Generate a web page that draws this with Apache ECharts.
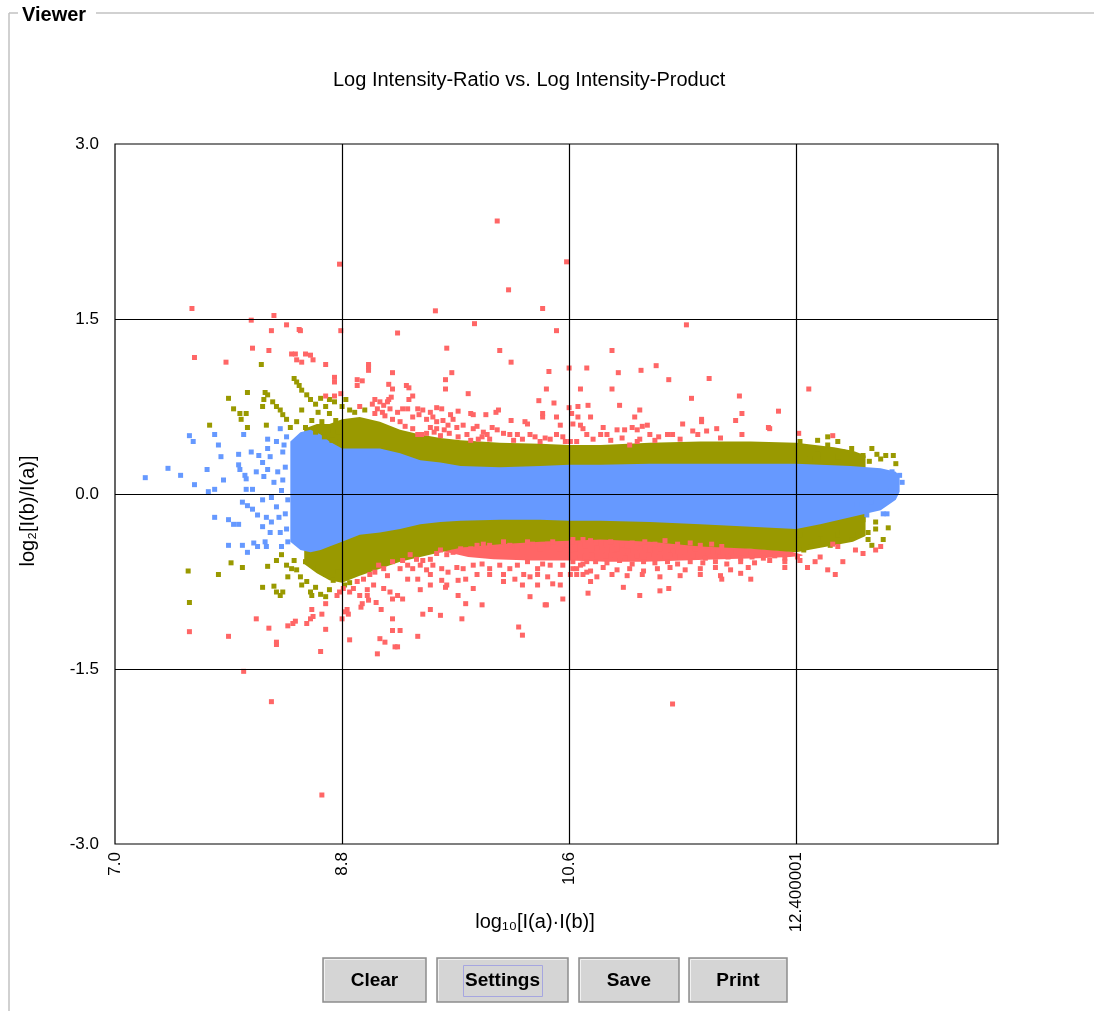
<!DOCTYPE html>
<html>
<head>
<meta charset="utf-8">
<script src="https://cdn.jsdelivr.net/npm/echarts@6/dist/echarts.min.js"></script>
<style>
  html, body { margin: 0; padding: 0; background: #ffffff; }
  #chart { width: 1094px; height: 1011px; }
</style>
</head>
<body>
<div id="chart"></div>
<script>
// ---- axis ticks ----
const xTicks = [7.0, 8.8, 10.6, 12.4];
const xTickLabels = ['7.0', '8.8', '10.6', '12.400001'];
const yTicks = [-3.0, -1.5, 0.0, 1.5, 3.0];
const yTickLabels = ['-3.0', '-1.5', '0.0', '1.5', '3.0'];

// ---- dense core of the cloud: upper / lower envelopes ----
const blueX  = [8.39, 8.47, 8.55, 8.63, 8.70, 8.80, 8.94, 9.10, 9.26, 9.42, 9.58, 9.74, 10.05, 10.37, 10.60, 10.85, 11.24, 11.64, 12.04, 12.40, 12.59, 12.83, 13.07, 13.19, 13.22];
const blueHi = [0.45, 0.53, 0.55, 0.51, 0.45, 0.39, 0.39, 0.39, 0.35, 0.29, 0.27, 0.24, 0.23, 0.24, 0.25, 0.25, 0.26, 0.26, 0.26, 0.26, 0.25, 0.24, 0.22, 0.19, 0.15];
const blueLo = [-0.41, -0.48, -0.50, -0.48, -0.45, -0.41, -0.35, -0.33, -0.30, -0.26, -0.24, -0.23, -0.22, -0.22, -0.23, -0.23, -0.24, -0.26, -0.28, -0.30, -0.26, -0.20, -0.14, -0.05, 0.02];

const oliveX  = [8.50, 8.60, 8.70, 8.80, 8.94, 9.10, 9.26, 9.42, 9.58, 9.74, 10.05, 10.37, 10.60, 10.85, 11.24, 11.64, 12.04, 12.40, 12.55, 12.70, 12.85, 12.95];
const oliveHi = [0.56, 0.60, 0.60, 0.64, 0.66, 0.62, 0.55, 0.51, 0.48, 0.46, 0.44, 0.43, 0.42, 0.42, 0.44, 0.45, 0.45, 0.44, 0.42, 0.40, 0.37, 0.33];
const oliveLo = [-0.60, -0.68, -0.74, -0.76, -0.70, -0.64, -0.58, -0.54, -0.50, -0.46, -0.43, -0.41, -0.40, -0.39, -0.41, -0.45, -0.47, -0.50, -0.47, -0.44, -0.41, -0.36];

// thick run of red just below the olive ring
const redLowX  = [9.60, 9.80, 10.00, 10.30, 10.60, 10.90, 11.20, 11.50, 11.80, 12.10, 12.35, 12.45];
const redLowHi = [-0.47, -0.45, -0.42, -0.40, -0.38, -0.38, -0.40, -0.42, -0.45, -0.47, -0.49, -0.52];
const redLowLo = [-0.49, -0.54, -0.56, -0.57, -0.57, -0.58, -0.58, -0.57, -0.56, -0.55, -0.54, -0.53];

// ---- individual spots outside the dense core ----
const bluePoints = [
  [7.24,0.14],[7.42,0.22],[7.52,0.16],[7.59,0.50],[7.62,0.45],[7.63,0.08],[7.73,0.21],[7.74,0.02],[7.79,0.04],
  [7.79,0.51],[7.82,0.42],[7.84,0.32],[7.86,0.12],[7.79,-0.20],[7.90,-0.22],[7.94,-0.26],[7.98,-0.26],[7.90,-0.44],
  [8.01,-0.44],[8.05,-0.50],[7.98,0.34],[7.98,0.25],[7.99,0.21],[8.03,0.16],[8.02,0.51],[8.08,0.36],[8.14,0.33],
  [8.04,0.13],[8.09,0.04],[8.04,0.04],[8.01,-0.07],[8.05,-0.10],[8.09,-0.13],[8.13,-0.18],[8.10,-0.42],[8.13,-0.45],
  [8.19,-0.41],[8.20,-0.45],[8.21,0.47],[8.21,0.39],[8.21,0.21],[8.18,0.15],[8.31,0.56],[8.28,0.45],[8.17,0.27],
  [8.23,0.32],[8.26,0.10],[8.24,-0.03],[8.17,-0.05],[8.28,-0.11],[8.20,-0.20],[8.24,-0.24],[8.31,-0.33],[8.23,-0.33],
  [8.17,-0.28],[8.32,-0.45],[8.12,0.19],[8.33,0.36],[8.35,0.23],[8.32,0.03],[8.35,-0.17],[8.29,0.19],[8.36,0.49],
  [8.37,-0.41],[8.34,0.42],[8.36,-0.30],[8.30,-0.20],[8.33,0.12],[8.37,-0.05],
  [13.22,0.16],[13.24,0.10],[13.09,-0.17],[13.12,-0.17],[13.16,0.19],[13.15,0.03],[12.99,-0.07],[12.96,-0.18],[12.88,-0.09]
];

const olivePoints = [
  [8.16,1.11],[8.42,0.99],[8.44,0.96],[8.46,0.93],[8.48,0.89],[8.52,0.85],[8.05,0.87],[7.90,0.82],[8.19,0.87],
  [8.21,0.85],[8.18,0.81],[8.17,0.75],[8.25,0.79],[8.28,0.75],[8.31,0.72],[8.33,0.68],[8.36,0.64],[7.94,0.73],
  [7.99,0.69],[8.00,0.64],[8.04,0.69],[7.75,0.59],[8.05,0.57],[8.20,0.59],[8.48,0.72],[8.55,0.81],[8.59,0.77],
  [8.63,0.82],[8.61,0.70],[8.67,0.75],[8.70,0.69],[8.56,0.63],[8.64,0.62],[8.75,0.63],[8.69,0.55],[8.77,0.53],
  [8.51,0.57],[8.59,0.53],[8.66,0.49],[8.72,0.46],[8.78,0.45],[8.39,0.57],[8.44,0.62],[8.80,0.75],[8.83,0.81],
  [8.74,0.79],[8.70,0.81],[8.86,0.72],[8.90,0.70],[8.98,0.72],
  [7.58,-0.66],[7.59,-0.93],[7.82,-0.69],[7.92,-0.59],[8.01,-0.63],[8.17,-0.80],[8.21,-0.62],[8.26,-0.79],[8.28,-0.84],
  [8.31,-0.87],[8.33,-0.84],[8.28,-0.57],[8.32,-0.52],[8.36,-0.61],[8.40,-0.64],[8.44,-0.65],[8.47,-0.71],[8.48,-0.78],
  [8.52,-0.75],[8.55,-0.84],[8.56,-0.87],[8.59,-0.80],[8.63,-0.86],[8.67,-0.88],[8.70,-0.82],[8.42,-0.57],[8.51,-0.58],
  [8.61,-0.63],[8.67,-0.69],[8.73,-0.74],[8.77,-0.67],[8.37,-0.71],[8.82,-0.78],[8.86,-0.76],
  [12.43,0.45],[12.49,0.39],[12.57,0.46],[12.65,0.49],[12.65,0.42],[12.73,0.45],[12.77,0.36],[12.84,0.39],[12.91,0.32],
  [12.93,0.33],[13.00,0.39],[13.07,0.30],[13.11,0.33],[13.17,0.33],[13.19,0.26],[12.61,0.30],[12.73,0.32],[12.51,0.30],
  [12.57,0.34],[12.98,0.28],[13.04,0.34],
  [12.43,-0.35],[12.46,-0.48],[12.51,-0.41],[12.59,-0.34],[12.61,-0.39],[12.67,-0.44],[12.73,-0.35],[12.76,-0.33],
  [12.80,-0.39],[12.85,-0.35],[12.91,-0.33],[12.93,-0.22],[12.97,-0.33],[13.03,-0.24],[13.03,-0.30],[13.09,-0.39],[12.97,-0.39],
  [13.13,-0.29],[13.00,-0.44]
];

const redPoints = [
  // above the cloud
  [10.03,2.34],[8.78,1.97],[10.58,1.99],[10.12,1.75],[7.61,1.59],[9.54,1.57],[10.39,1.59],[8.26,1.53],[8.08,1.49],
  [8.36,1.45],[8.24,1.40],[8.46,1.41],[8.47,1.40],[8.79,1.40],[8.09,1.25],[8.22,1.23],[8.40,1.20],[8.43,1.20],
  [8.51,1.20],[8.55,1.19],[8.57,1.15],[7.63,1.17],[7.88,1.13],[8.44,1.15],[8.48,1.13],[8.67,1.11],[8.74,1.00],
  [8.74,0.96],[8.92,0.98],[8.92,0.93],[8.96,0.97],[9.01,1.09],[8.67,0.84],[8.74,0.84],[8.79,0.86],[8.94,0.75],
  [9.85,1.46],[10.50,1.40],[9.24,1.38],[9.63,1.25],[10.05,1.23],[10.14,1.13],[9.01,1.11],[9.01,1.06],[9.20,1.04],
  [9.67,1.04],[10.44,1.05],[10.60,1.08],[10.74,1.08],[9.62,0.98],[9.62,0.90],[9.17,0.94],[9.20,0.90],[9.31,0.93],
  [9.33,0.91],[10.42,0.90],[10.69,0.90],[9.80,0.86],[9.36,0.84],[9.33,0.81],[9.19,0.83],[9.17,0.81],[9.16,0.79],
  [9.06,0.81],[9.10,0.79],[9.13,0.76],[9.04,0.77],[9.08,0.73],[10.36,0.80],[10.48,0.78],[10.60,0.74],[10.67,0.75],
  [10.75,0.76],[10.04,0.72],[10.02,0.70],[9.40,0.73],[9.44,0.72],[9.50,0.70],[9.55,0.74],[9.59,0.73],[9.72,0.71],
  [9.82,0.69],[9.84,0.68],[9.12,0.70],[9.18,0.73],[9.24,0.70],[9.28,0.73],[9.32,0.73],[9.94,0.68],[10.14,0.63],
  [10.25,0.62],[10.27,0.60],[10.39,0.66],[10.39,0.69],[10.50,0.66],[10.53,0.59],[10.62,0.69],[10.67,0.66],[9.36,0.66],
  [9.41,0.68],[9.47,0.64],[9.52,0.66],[9.55,0.62],[9.60,0.63],[9.66,0.68],[9.68,0.64],[9.64,0.59],[9.50,0.57],
  [9.55,0.56],[9.61,0.55],[9.71,0.57],[9.76,0.59],[9.84,0.56],[9.87,0.58],[9.92,0.53],[9.99,0.57],[10.03,0.55],
  [10.08,0.52],[10.13,0.51],[10.19,0.51],[10.23,0.47],[10.29,0.51],[10.33,0.49],[10.37,0.45],[10.45,0.47],[10.50,0.51],
  [10.55,0.49],[10.61,0.45],[10.66,0.45],[9.36,0.56],[9.40,0.51],[9.43,0.51],[9.47,0.52],[9.79,0.51],[9.82,0.46],
  [9.88,0.47],[9.95,0.51],[9.97,0.47],[9.26,0.62],[9.30,0.58],[9.20,0.64],[9.14,0.67],[9.06,0.69],
  [9.58,0.50],[9.65,0.52],[9.72,0.49],[10.16,0.46],[10.41,0.48],[10.57,0.45],[9.91,0.49],[9.53,0.53],
  [11.53,1.45],[10.94,1.23],[10.99,1.04],[11.17,1.06],[11.29,1.10],[11.39,0.98],[11.71,0.99],[10.94,0.90],[11.95,0.84],
  [11.57,0.82],[11.00,0.76],[11.16,0.72],[11.97,0.69],[12.26,0.71],[12.50,0.90],[10.77,0.66],[11.12,0.66],[10.63,0.60],
  [10.69,0.59],[11.50,0.60],[11.65,0.64],[11.65,0.62],[11.92,0.63],[12.18,0.57],[12.19,0.56],[11.77,0.56],[11.69,0.54],
  [11.58,0.54],[11.62,0.51],[10.87,0.57],[10.98,0.55],[11.04,0.55],[11.10,0.57],[11.14,0.55],[11.18,0.58],[11.22,0.59],
  [11.24,0.51],[11.31,0.49],[11.16,0.47],[11.38,0.51],[11.42,0.51],[10.71,0.56],[10.74,0.51],[10.79,0.47],[10.85,0.51],
  [10.90,0.51],[10.93,0.46],[11.97,0.51],[12.42,0.52],[12.69,0.50],[11.08,0.42],[11.14,0.45],[11.02,0.48],[11.28,0.46],
  [11.48,0.47],[11.80,0.48],
  // below the cloud
  [9.34,-0.52],[9.39,-0.56],[9.44,-0.57],[9.50,-0.56],[9.55,-0.51],[9.58,-0.48],[9.63,-0.52],[9.68,-0.50],[9.74,-0.47],
  [9.78,-0.48],[9.82,-0.47],[9.87,-0.44],[9.92,-0.43],[9.97,-0.44],[10.04,-0.47],[10.08,-0.41],[10.13,-0.44],[10.19,-0.45],
  [10.23,-0.48],[10.27,-0.41],[10.31,-0.43],[10.37,-0.47],[10.43,-0.43],[10.47,-0.41],[10.53,-0.47],[10.58,-0.44],
  [10.63,-0.39],[10.71,-0.39],
  [9.32,-0.61],[9.36,-0.64],[9.42,-0.61],[9.47,-0.65],[9.52,-0.61],[9.59,-0.64],[9.64,-0.67],[9.71,-0.63],[9.76,-0.64],
  [9.84,-0.61],[9.91,-0.60],[9.97,-0.64],[10.05,-0.61],[10.13,-0.64],[10.19,-0.61],[10.27,-0.58],[10.35,-0.64],[10.39,-0.60],
  [10.45,-0.61],[10.55,-0.61],[10.63,-0.64],[10.69,-0.61],[10.74,-0.58],
  [9.26,-0.64],[9.32,-0.73],[9.40,-0.73],[9.50,-0.69],[9.59,-0.74],[9.63,-0.78],[9.72,-0.74],[9.78,-0.73],[9.87,-0.69],
  [9.97,-0.69],[10.08,-0.69],[10.17,-0.73],[10.24,-0.69],[10.29,-0.71],[10.35,-0.69],[10.43,-0.71],[10.53,-0.69],[10.61,-0.69],
  [10.66,-0.69],[10.74,-0.67],
  [9.13,-0.81],[9.18,-0.84],[9.24,-0.87],[9.42,-0.82],[9.50,-0.78],[9.62,-0.80],[9.72,-0.87],[9.78,-0.94],[9.84,-0.81],
  [9.91,-0.95],[10.08,-0.75],[10.23,-0.78],[10.29,-0.88],[10.35,-0.78],[10.41,-0.95],[10.47,-0.77],[10.53,-0.78],[10.55,-0.90],
  [8.81,-0.81],[8.86,-0.84],[8.94,-0.87],[9.00,-0.82],[9.05,-0.78],[8.97,-0.73],[9.02,-0.69],[9.09,-0.61],[9.06,-0.67],
  [9.13,-0.64],[9.20,-0.58],[9.28,-0.57],[9.16,-0.70],
  [10.62,-0.41],[10.69,-0.43],[10.77,-0.40],[10.85,-0.42],[10.93,-0.41],[11.02,-0.44],[11.10,-0.42],[11.20,-0.41],[11.28,-0.43],
  [11.36,-0.40],[11.46,-0.43],[11.56,-0.42],[11.64,-0.44],[11.73,-0.43],[11.81,-0.45],
  [10.65,-0.47],[10.73,-0.49],[10.82,-0.46],[10.90,-0.48],[10.98,-0.47],[11.07,-0.49],[11.16,-0.46],[11.24,-0.48],[11.32,-0.47],
  [11.42,-0.49],[11.52,-0.48],[11.60,-0.47],[11.70,-0.49],[11.78,-0.50],[11.88,-0.49],[12.00,-0.51],
  [10.61,-0.52],[10.69,-0.54],[10.78,-0.52],[10.89,-0.53],[10.96,-0.52],[11.04,-0.55],[11.14,-0.53],[11.23,-0.52],[11.32,-0.54],
  [11.40,-0.52],[11.48,-0.54],[11.58,-0.53],[11.68,-0.55],[11.76,-0.53],[11.86,-0.54],[11.96,-0.55],[12.05,-0.54],[12.14,-0.55],
  [12.23,-0.53],[12.31,-0.55],[12.41,-0.54],
  [10.63,-0.58],[10.71,-0.60],[10.81,-0.58],[10.90,-0.59],[11.00,-0.57],[11.10,-0.60],[11.19,-0.58],[11.28,-0.59],[11.38,-0.58],
  [11.46,-0.60],[11.56,-0.58],[11.66,-0.59],[11.76,-0.58],[11.85,-0.60],[11.96,-0.58],[12.07,-0.59],[12.19,-0.57],[12.31,-0.58],
  [12.43,-0.57],[12.55,-0.58],
  [10.66,-0.64],[10.77,-0.66],[10.87,-0.63],[10.98,-0.65],[11.08,-0.64],[11.19,-0.66],[11.30,-0.64],[11.40,-0.63],[11.52,-0.65],
  [11.64,-0.64],[11.76,-0.63],[11.88,-0.65],[12.02,-0.63],
  [10.71,-0.69],[10.82,-0.71],[10.94,-0.69],[11.06,-0.70],[11.18,-0.69],[11.32,-0.71],[11.48,-0.70],[11.64,-0.69],[11.80,-0.70],
  [11.96,-0.68],
  [10.77,-0.75],[11.03,-0.80],[11.16,-0.87],[11.32,-0.83],[11.39,-0.81],[10.75,-0.85],[11.81,-0.73],[12.04,-0.73],[12.31,-0.63],
  [12.49,-0.63],[12.59,-0.54],[12.65,-0.65],[12.71,-0.69],[12.77,-0.58],[12.87,-0.48],[12.93,-0.51],[13.03,-0.48],[13.07,-0.45],
  [12.73,-0.45],[12.69,-0.43],[11.42,-1.80],
  [8.64,-2.58],[8.24,-1.78],[8.02,-1.52],[7.59,-1.18],[7.90,-1.22],[8.12,-1.07],[8.22,-1.15],[8.28,-1.27],[8.28,-1.29],
  [8.37,-1.13],[8.41,-1.11],[8.43,-1.09],[8.52,-1.11],[8.55,-1.07],[8.57,-1.05],[8.56,-0.99],[8.64,-1.03],[8.67,-0.94],
  [8.63,-1.35],[8.67,-1.16],[8.85,-1.03],[8.84,-0.99],[8.95,-0.97],[9.07,-0.93],[9.11,-0.99],[8.78,-0.84],[8.76,-0.87],
  [8.89,-0.81],[9.00,-0.87],[9.01,-0.91],[8.92,-0.75],[8.80,-1.07],[8.82,-1.01],[8.86,-1.25],[8.96,-0.94],[9.10,-1.24],
  [9.14,-1.27],[9.20,-1.07],[9.20,-1.17],[9.26,-1.17],[9.22,-1.31],[9.24,-1.31],[9.08,-1.37],[9.20,-0.90],[9.28,-0.90],
  [9.40,-1.22],[9.50,-0.99],[9.58,-1.04],[9.75,-1.07],[10.20,-1.14],[10.23,-1.21],[9.44,-1.03],[10.42,-0.95]
];

const buttonLabels = ['Clear', 'Settings', 'Save', 'Print'];

// ---------------------------------------------------------------
const FONT = '"Liberation Sans", Arial, "DejaVu Sans", sans-serif';
const BLUE = '#6699ff', OLIVE = '#999900', RED = '#ff6666';

function outline(xs, hi, lo) {
  // along the upper edge, then back along the lower edge
  const top = xs.map((x, i) => [x, hi[i]]);
  const bottom = xs.map((x, i) => [x, lo[i]]).reverse();
  return top.concat(bottom);
}

function bandSeries(name, pts, color) {
  return {
    type: 'custom', name: name, silent: true, clip: true, z: 1,
    data: [[pts[0][0], pts[0][1]]],
    encode: { x: 0, y: 1 },
    renderItem: (params, api) => ({
      type: 'polygon',
      shape: { points: pts.map(p => api.coord(p)) },
      style: { fill: color, stroke: null }
    })
  };
}

function dotSeries(name, data, color) {
  return {
    type: 'scatter', name: name, data: data, symbol: 'rect', symbolSize: 5,
    itemStyle: { color: color, opacity: 1 }, silent: true, z: 2
  };
}

// buttons laid out along the bottom
const btnBoxes = [[323, 103], [437, 131], [579, 100], [689, 98]];
const buttons = [];
buttonLabels.forEach((label, i) => {
  const [bx, bw] = btnBoxes[i];
  const children = [
    { type: 'rect', shape: { x: bx, y: 958, width: bw, height: 44 },
      style: { fill: '#d5d5d5', stroke: '#8d8d8d', lineWidth: 1.5 } },
    { type: 'line', shape: { x1: bx + 1.5, y1: 959.5, x2: bx + bw - 1.5, y2: 959.5 },
      style: { stroke: '#f2f2f2', lineWidth: 1 } },
    { type: 'line', shape: { x1: bx + 1.5, y1: 959.5, x2: bx + 1.5, y2: 1000.5 },
      style: { stroke: '#f2f2f2', lineWidth: 1 } },
    { type: 'text', x: bx + bw / 2, y: 981,
      style: { text: label, font: 'bold 19px ' + FONT, fill: '#000', align: 'center', verticalAlign: 'middle' } }
  ];
  if (label === 'Settings') {
    children.push({ type: 'rect', shape: { x: bx + 26.5, y: 965.5, width: 79, height: 31 },
      style: { fill: null, stroke: '#a6a6e0', lineWidth: 1 } });
  }
  buttons.push({ type: 'group', children: children });
});

const chart = echarts.init(document.getElementById('chart'), null, { renderer: 'canvas' });
chart.setOption({
  animation: false,
  backgroundColor: '#ffffff',
  title: {
    text: 'Log Intensity-Ratio vs. Log Intensity-Product',
    left: 333, top: 70, padding: 0,
    textStyle: { fontFamily: FONT, fontSize: 20, fontWeight: 'normal', color: '#000' }
  },
  grid: {
    left: 115, top: 144, right: 96, bottom: 167,
    show: true, borderColor: '#000', borderWidth: 1.2, backgroundColor: 'transparent'
  },
  xAxis: {
    type: 'value', min: 7, max: 14,
    axisLine: { show: false }, axisTick: { show: false }, splitLine: { show: false },
    axisLabel: {
      customValues: xTicks,
      rotate: 90, margin: 8, fontFamily: FONT, fontSize: 17, color: '#000',
      formatter: v => {
        const i = xTicks.findIndex(t => Math.abs(t - v) < 1e-6);
        return i >= 0 ? xTickLabels[i] : '';
      }
    }
  },
  yAxis: {
    type: 'value', min: -3, max: 3, interval: 1.5,
    axisLine: { show: false }, axisTick: { show: false }, splitLine: { show: false },
    axisLabel: {
      margin: 16, fontFamily: FONT, fontSize: 17, color: '#000',
      formatter: v => {
        const i = yTicks.findIndex(t => Math.abs(t - v) < 1e-6);
        return i >= 0 ? yTickLabels[i] : '';
      }
    }
  },
  series: [
    bandSeries('red run below', outline(redLowX, redLowHi, redLowLo), RED),
    bandSeries('olive band', outline(oliveX, oliveHi, oliveLo), OLIVE),
    bandSeries('blue band', outline(blueX, blueHi, blueLo), BLUE),
    dotSeries('blue', bluePoints, BLUE),
    dotSeries('olive', olivePoints, OLIVE),
    Object.assign(dotSeries('red', redPoints, RED), {
      markLine: {
        silent: true, symbol: ['none', 'none'], label: { show: false },
        lineStyle: { color: '#000', width: 1.2, type: 'solid' },
        emphasis: { disabled: true },
        data: xTicks.slice(1).map(v => ({ xAxis: v }))
          .concat(yTicks.slice(1, -1).map(v => ({ yAxis: v })))
      }
    })
  ],
  graphic: [
    // titled frame around the viewer
    { type: 'line', shape: { x1: 9, y1: 13, x2: 18, y2: 13 }, style: { stroke: '#c2c2c2', lineWidth: 1.5 } },
    { type: 'line', shape: { x1: 96, y1: 13, x2: 1094, y2: 13 }, style: { stroke: '#c2c2c2', lineWidth: 1.5 } },
    { type: 'line', shape: { x1: 9, y1: 13, x2: 9, y2: 1011 }, style: { stroke: '#c2c2c2', lineWidth: 1.5 } },
    { type: 'text', x: 22, y: 15,
      style: { text: 'Viewer', font: 'bold 20px ' + FONT, fill: '#000', align: 'left', verticalAlign: 'middle' } },
    // axis names
    { type: 'text', x: 28, y: 511, rotation: Math.PI / 2,
      style: { text: 'log₂[I(b)/I(a)]', font: '20px ' + FONT, fill: '#000', align: 'center', verticalAlign: 'middle' } },
    { type: 'text', x: 535, y: 922,
      style: { text: 'log₁₀[I(a)·I(b)]', font: '20px ' + FONT, fill: '#000', align: 'center', verticalAlign: 'middle' } }
  ].concat(buttons)
});
</script>
</body>
</html>
